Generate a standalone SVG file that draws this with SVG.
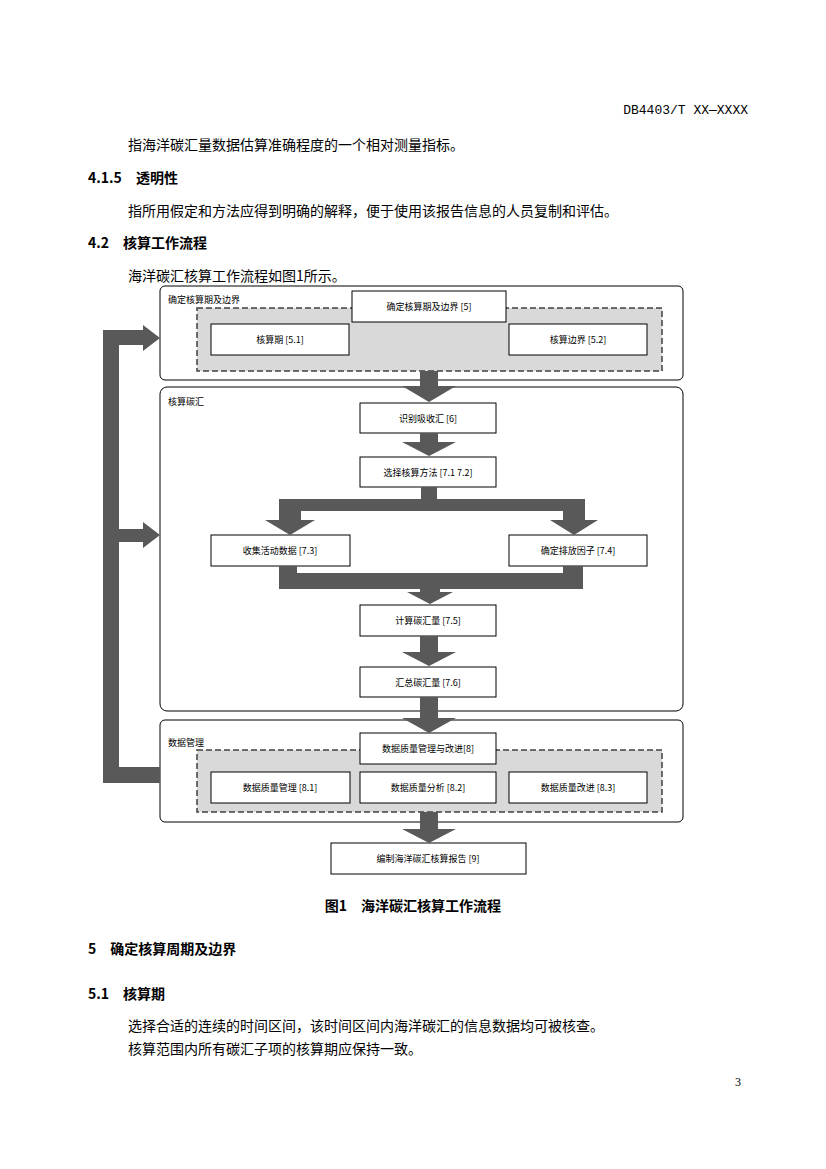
<svg xmlns="http://www.w3.org/2000/svg" width="826" height="1169" viewBox="0 0 826 1169">
<style>
.t{font-family:"Noto Sans CJK SC","Liberation Sans",sans-serif;fill:#000}
.b{font-size:14px}
.h{font-size:14px;font-weight:bold}
.s{font-size:9px}
.n{fill:#fff;stroke:#000;stroke-width:1}
.g{fill:#fff;stroke:#000;stroke-width:1}
.d{fill:#d9d9d9;stroke:#404040;stroke-width:1.5;stroke-dasharray:6,3}
.a{fill:#595959}
</style>
<rect width="826" height="1169" fill="#fff"/>
<text class="t" x="748" y="114" text-anchor="end" font-family="Liberation Mono" style="font-family:'Liberation Mono',monospace;font-size:13px">DB4403/T XX—XXXX</text>
<text class="t b" x="128" y="150">指海洋碳汇量数据估算准确程度的一个相对测量指标。</text>
<text class="t h" x="88" y="183">4.1.5　透明性</text>
<text class="t b" x="128" y="216">指所用假定和方法应得到明确的解释，便于使用该报告信息的人员复制和评估。</text>
<text class="t h" x="88" y="248">4.2　核算工作流程</text>
<text class="t b" x="128" y="281">海洋碳汇核算工作流程如图1所示。</text>

<g id="group1">
<rect class="g" x="160" y="286" width="523" height="94" rx="5"/>
<text class="t s" x="168" y="303">确定核算期及边界</text>
<rect class="d" x="197" y="308" width="465" height="63"/>
</g>
<g id="n5"><rect class="n" x="352" y="291" width="154" height="31"/><text class="t s" x="429" y="310" text-anchor="middle">确定核算期及边界 [5]</text></g>
<g id="n51"><rect class="n" x="211" y="324" width="138" height="31"/><text class="t s" x="280" y="343" text-anchor="middle">核算期 [5.1]</text></g>
<g id="n52"><rect class="n" x="509" y="324" width="138" height="31"/><text class="t s" x="578" y="343" text-anchor="middle">核算边界 [5.2]</text></g>

<g id="group2">
<rect class="g" x="160" y="387" width="523" height="324" rx="7"/>
<text class="t s" x="168" y="405">核算碳汇</text>
</g>
<g id="n6"><rect class="n" x="360" y="403" width="136" height="30"/><text class="t s" x="428" y="422" text-anchor="middle">识别吸收汇 [6]</text></g>
<g id="n71"><rect class="n" x="360" y="457" width="136" height="30"/><text class="t s" x="428" y="476" text-anchor="middle">选择核算方法 [7.1 7.2]</text></g>
<g id="n73"><rect class="n" x="211" y="535" width="139" height="31"/><text class="t s" x="280" y="554" text-anchor="middle">收集活动数据 [7.3]</text></g>
<g id="n74"><rect class="n" x="509" y="535" width="138" height="31"/><text class="t s" x="578" y="554" text-anchor="middle">确定排放因子 [7.4]</text></g>
<g id="n75"><rect class="n" x="360" y="605" width="136" height="31"/><text class="t s" x="428" y="624" text-anchor="middle">计算碳汇量 [7.5]</text></g>
<g id="n76"><rect class="n" x="360" y="667" width="136" height="30"/><text class="t s" x="428" y="686" text-anchor="middle">汇总碳汇量 [7.6]</text></g>

<g id="group3">
<rect class="g" x="160" y="720" width="523" height="102" rx="5"/>
<text class="t s" x="168" y="746">数据管理</text>
<rect class="d" x="197" y="750" width="465" height="62"/>
</g>
<g id="n8"><rect class="n" x="360" y="733" width="136" height="31"/><text class="t s" x="428" y="752" text-anchor="middle">数据质量管理与改进[8]</text></g>
<g id="n81"><rect class="n" x="211" y="772" width="139" height="31"/><text class="t s" x="280" y="791" text-anchor="middle">数据质量管理 [8.1]</text></g>
<g id="n82"><rect class="n" x="360" y="772" width="136" height="31"/><text class="t s" x="428" y="791" text-anchor="middle">数据质量分析 [8.2]</text></g>
<g id="n83"><rect class="n" x="509" y="772" width="138" height="31"/><text class="t s" x="578" y="791" text-anchor="middle">数据质量改进 [8.3]</text></g>
<g id="n9"><rect class="n" x="331" y="843" width="195" height="31"/><text class="t s" x="428" y="862" text-anchor="middle">编制海洋碳汇核算报告 [9]</text></g>

<g id="connectors" class="a">
<polygon points="420,371 438,371 438,386 456,386 429,402 402,386 420,386"/>
<polygon points="420,433 438,433 438,442 456,442 429,456 402,442 420,442"/>
<polygon points="421,487 437,487 437,499 585,499 585,520 598,520 574,535 550,520 563,520 563,511 301,511 301,520 315,520 290,535 265,520 279,520 279,499 421,499"/>
<polygon points="279,566 297,566 297,573 563,573 563,566 583,566 583,589 440,589 440,592 453,592 430,604 407,592 420,592 420,589 279,589"/>
<polygon points="420,636 438,636 438,652 456,652 429,666 402,652 420,652"/>
<polygon points="420,697 438,697 438,718 456,718 429,733 402,718 420,718"/>
<polygon points="420,812 438,812 438,829 456,829 429,843 402,829 420,829"/>
<polygon points="103,330 143,330 143,325 160,338 143,351 143,345 119,345 119,529 143,529 143,522 160,535 143,548 143,542 119,542 119,767 160,767 160,783 103,783"/>
</g>

<text class="t h" x="413" y="911" text-anchor="middle">图1　海洋碳汇核算工作流程</text>
<text class="t h" x="88" y="954">5　确定核算周期及边界</text>
<text class="t h" x="88" y="999">5.1　核算期</text>
<text class="t b" x="128" y="1031">选择合适的连续的时间区间，该时间区间内海洋碳汇的信息数据均可被核查。</text>
<text class="t b" x="128" y="1054">核算范围内所有碳汇子项的核算期应保持一致。</text>
<text x="741" y="1086" style="font-family:'Liberation Serif',serif;font-size:12px" text-anchor="end">3</text>
</svg>
